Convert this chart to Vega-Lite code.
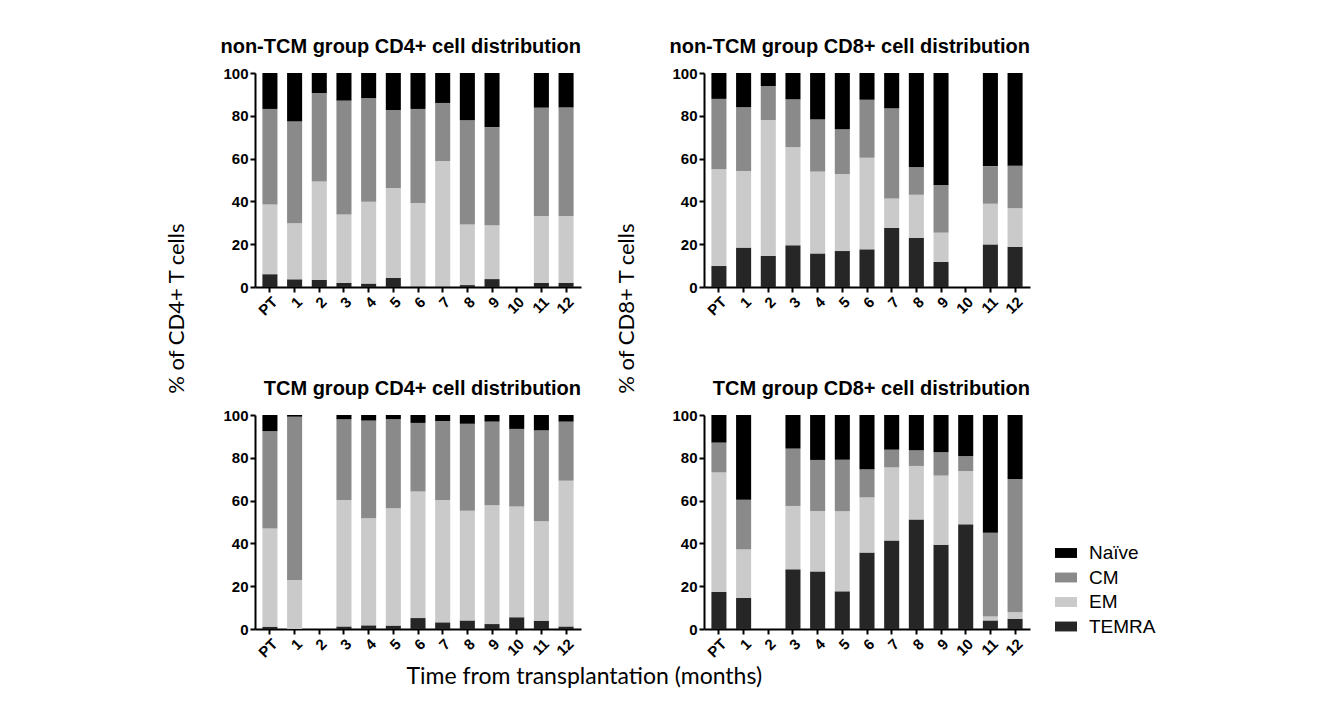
{
  "$schema": "https://vega.github.io/schema/vega-lite/v6.json",
  "background": "white",
  "padding": {"left": 166, "top": 37, "right": 5, "bottom": 5},
  "config": {
    "view": {"stroke": null},
    "font": "Liberation Sans",
    "axis": {
      "grid": false,
      "domainColor": "#000000",
      "domainWidth": 2,
      "tickColor": "#000000",
      "tickWidth": 2,
      "tickSize": 5,
      "labelFont": "Liberation Sans",
      "labelFontWeight": "bold",
      "labelFontSize": 15,
      "labelColor": "#000000",
      "labelPadding": 2
    },
    "title": {"font": "Liberation Sans", "fontWeight": "bold", "fontSize": 20, "color": "#000000"},
    "concat": {"spacing": 35}
  },
  "datasets": {
    "stackrank": [
      {"subset": "TEMRA", "rank": 1},
      {"subset": "EM", "rank": 2},
      {"subset": "CM", "rank": 3},
      {"subset": "Naïve", "rank": 4}
    ]
  },
  "data": {
    "values": [
      {"panel": "A", "month": "PT", "TEMRA": 6.0, "EM": 32.5, "CM": 44.7, "Naïve": 16.8},
      {"panel": "A", "month": "1", "TEMRA": 3.6, "EM": 26.2, "CM": 47.6, "Naïve": 22.6},
      {"panel": "A", "month": "2", "TEMRA": 3.4, "EM": 45.9, "CM": 41.3, "Naïve": 9.4},
      {"panel": "A", "month": "3", "TEMRA": 2.0, "EM": 31.9, "CM": 53.2, "Naïve": 12.9},
      {"panel": "A", "month": "4", "TEMRA": 1.6, "EM": 38.2, "CM": 48.5, "Naïve": 11.7},
      {"panel": "A", "month": "5", "TEMRA": 4.2, "EM": 42.1, "CM": 36.4, "Naïve": 17.3},
      {"panel": "A", "month": "6", "TEMRA": 0.3, "EM": 38.9, "CM": 44.0, "Naïve": 16.8},
      {"panel": "A", "month": "7", "TEMRA": 0.3, "EM": 58.5, "CM": 27.2, "Naïve": 14.0},
      {"panel": "A", "month": "8", "TEMRA": 0.9, "EM": 28.3, "CM": 48.8, "Naïve": 22.0},
      {"panel": "A", "month": "9", "TEMRA": 3.7, "EM": 25.2, "CM": 45.8, "Naïve": 25.3},
      {"panel": "A", "month": "11", "TEMRA": 1.9, "EM": 31.3, "CM": 50.6, "Naïve": 16.2},
      {"panel": "A", "month": "12", "TEMRA": 2.0, "EM": 31.2, "CM": 50.7, "Naïve": 16.1},
      {"panel": "B", "month": "PT", "TEMRA": 9.8, "EM": 45.2, "CM": 32.9, "Naïve": 12.1},
      {"panel": "B", "month": "1", "TEMRA": 18.4, "EM": 35.8, "CM": 29.8, "Naïve": 16.0},
      {"panel": "B", "month": "2", "TEMRA": 14.6, "EM": 63.4, "CM": 15.9, "Naïve": 6.1},
      {"panel": "B", "month": "3", "TEMRA": 19.5, "EM": 45.9, "CM": 22.3, "Naïve": 12.3},
      {"panel": "B", "month": "4", "TEMRA": 15.7, "EM": 38.2, "CM": 24.4, "Naïve": 21.7},
      {"panel": "B", "month": "5", "TEMRA": 16.8, "EM": 36.0, "CM": 20.9, "Naïve": 26.3},
      {"panel": "B", "month": "6", "TEMRA": 17.6, "EM": 42.8, "CM": 27.1, "Naïve": 12.5},
      {"panel": "B", "month": "7", "TEMRA": 27.6, "EM": 13.8, "CM": 42.1, "Naïve": 16.5},
      {"panel": "B", "month": "8", "TEMRA": 22.9, "EM": 20.2, "CM": 12.8, "Naïve": 44.1},
      {"panel": "B", "month": "9", "TEMRA": 11.7, "EM": 13.7, "CM": 22.3, "Naïve": 52.3},
      {"panel": "B", "month": "11", "TEMRA": 19.9, "EM": 19.0, "CM": 17.6, "Naïve": 43.5},
      {"panel": "B", "month": "12", "TEMRA": 18.8, "EM": 18.0, "CM": 19.9, "Naïve": 43.3},
      {"panel": "C", "month": "PT", "TEMRA": 1.1, "EM": 45.9, "CM": 45.5, "Naïve": 7.5},
      {"panel": "C", "month": "1", "TEMRA": 0.0, "EM": 22.9, "CM": 76.3, "Naïve": 0.8},
      {"panel": "C", "month": "3", "TEMRA": 1.2, "EM": 59.1, "CM": 37.7, "Naïve": 2.0},
      {"panel": "C", "month": "4", "TEMRA": 1.7, "EM": 50.0, "CM": 45.7, "Naïve": 2.6},
      {"panel": "C", "month": "5", "TEMRA": 1.6, "EM": 54.8, "CM": 41.7, "Naïve": 1.9},
      {"panel": "C", "month": "6", "TEMRA": 5.1, "EM": 59.2, "CM": 32.0, "Naïve": 3.7},
      {"panel": "C", "month": "7", "TEMRA": 3.1, "EM": 57.2, "CM": 36.9, "Naïve": 2.8},
      {"panel": "C", "month": "8", "TEMRA": 4.0, "EM": 51.3, "CM": 40.6, "Naïve": 4.1},
      {"panel": "C", "month": "9", "TEMRA": 2.3, "EM": 55.5, "CM": 39.1, "Naïve": 3.1},
      {"panel": "C", "month": "10", "TEMRA": 5.5, "EM": 51.8, "CM": 36.2, "Naïve": 6.5},
      {"panel": "C", "month": "11", "TEMRA": 3.9, "EM": 46.4, "CM": 42.5, "Naïve": 7.2},
      {"panel": "C", "month": "12", "TEMRA": 1.2, "EM": 68.1, "CM": 27.6, "Naïve": 3.1},
      {"panel": "D", "month": "PT", "TEMRA": 17.3, "EM": 55.9, "CM": 13.9, "Naïve": 12.9},
      {"panel": "D", "month": "1", "TEMRA": 14.6, "EM": 22.6, "CM": 23.2, "Naïve": 39.6},
      {"panel": "D", "month": "3", "TEMRA": 27.9, "EM": 29.6, "CM": 26.8, "Naïve": 15.7},
      {"panel": "D", "month": "4", "TEMRA": 26.9, "EM": 28.2, "CM": 23.9, "Naïve": 21.0},
      {"panel": "D", "month": "5", "TEMRA": 17.6, "EM": 37.5, "CM": 24.0, "Naïve": 20.9},
      {"panel": "D", "month": "6", "TEMRA": 35.7, "EM": 25.8, "CM": 13.1, "Naïve": 25.4},
      {"panel": "D", "month": "7", "TEMRA": 41.3, "EM": 34.2, "CM": 8.3, "Naïve": 16.2},
      {"panel": "D", "month": "8", "TEMRA": 51.2, "EM": 25.0, "CM": 7.3, "Naïve": 16.5},
      {"panel": "D", "month": "9", "TEMRA": 39.4, "EM": 32.3, "CM": 10.9, "Naïve": 17.4},
      {"panel": "D", "month": "10", "TEMRA": 48.9, "EM": 24.9, "CM": 7.0, "Naïve": 19.2},
      {"panel": "D", "month": "11", "TEMRA": 4.0, "EM": 1.8, "CM": 39.2, "Naïve": 55.0},
      {"panel": "D", "month": "12", "TEMRA": 4.8, "EM": 3.0, "CM": 62.3, "Naïve": 29.9}
    ]
  },
  "title": {
    "text": "Time from transplantation (months)",
    "orient": "bottom",
    "anchor": "middle",
    "font": "Lato",
    "fontSize": 23,
    "fontWeight": "normal",
    "offset": 6,
    "dx": -77
  },
  "hconcat": [
    {
      "title": {"text": "% of CD4+ T cells", "orient": "left", "anchor": "middle", "font": "Lato", "fontSize": 22, "fontWeight": "normal", "offset": 31, "dx": 40},
      "spacing": 60,
      "vconcat": [
        {
          "title": {"text": "non-TCM group CD4+ cell distribution", "anchor": "end", "frame": "group", "offset": 9},
          "width": 326, "height": 214,
          "transform": [
            {"filter": "datum.panel === 'A'"},
            {"fold": ["TEMRA", "EM", "CM", "Naïve"], "as": ["subset", "pct"]},
            {"lookup": "subset", "from": {"data": {"name": "stackrank"}, "key": "subset", "fields": ["rank"]}}
          ],
          "mark": {"type": "bar"},
          "encoding": {
            "x": {"field": "month", "type": "nominal", "scale": {"domain": ["PT", "1", "2", "3", "4", "5", "6", "7", "8", "9", "10", "11", "12"], "paddingInner": 0.39, "paddingOuter": 0.3}, "axis": {"title": null, "labelAngle": -45}},
            "y": {"field": "pct", "type": "quantitative", "stack": "zero", "scale": {"domain": [0, 100]}, "axis": {"title": null, "values": [0, 20, 40, 60, 80, 100]}},
            "order": {"field": "rank", "type": "quantitative", "sort": "ascending"},
            "color": {"field": "subset", "type": "nominal", "sort": ["TEMRA", "EM", "CM", "Naïve"], "scale": {"range": ["#262626", "#cacaca", "#8a8a8a", "#000000"]}, "legend": {"title": null, "values": ["Naïve", "CM", "EM", "TEMRA"], "orient": "none", "legendX": 800, "legendY": 469, "symbolType": "M-1,-0.45H1V0.45H-1Z", "symbolSize": 484, "symbolStrokeWidth": 0, "labelFont": "Liberation Sans", "labelFontSize": 19, "labelColor": "#000000", "rowPadding": 3.5, "labelOffset": 12}}
          }
        },
        {
          "title": {"text": "TCM group CD4+ cell distribution", "anchor": "end", "frame": "group", "offset": 9},
          "width": 326, "height": 214,
          "transform": [
            {"filter": "datum.panel === 'C'"},
            {"fold": ["TEMRA", "EM", "CM", "Naïve"], "as": ["subset", "pct"]},
            {"lookup": "subset", "from": {"data": {"name": "stackrank"}, "key": "subset", "fields": ["rank"]}}
          ],
          "mark": {"type": "bar"},
          "encoding": {
            "x": {"field": "month", "type": "nominal", "scale": {"domain": ["PT", "1", "2", "3", "4", "5", "6", "7", "8", "9", "10", "11", "12"], "paddingInner": 0.39, "paddingOuter": 0.3}, "axis": {"title": null, "labelAngle": -45}},
            "y": {"field": "pct", "type": "quantitative", "stack": "zero", "scale": {"domain": [0, 100]}, "axis": {"title": null, "values": [0, 20, 40, 60, 80, 100]}},
            "order": {"field": "rank", "type": "quantitative", "sort": "ascending"},
            "color": {"field": "subset", "type": "nominal", "sort": ["TEMRA", "EM", "CM", "Naïve"]}
          }
        }
      ]
    },
    {
      "title": {"text": "% of CD8+ T cells", "orient": "left", "anchor": "middle", "font": "Lato", "fontSize": 22, "fontWeight": "normal", "offset": 30, "dx": 40},
      "spacing": 60,
      "vconcat": [
        {
          "title": {"text": "non-TCM group CD8+ cell distribution", "anchor": "end", "frame": "group", "offset": 9},
          "width": 326, "height": 214,
          "transform": [
            {"filter": "datum.panel === 'B'"},
            {"fold": ["TEMRA", "EM", "CM", "Naïve"], "as": ["subset", "pct"]},
            {"lookup": "subset", "from": {"data": {"name": "stackrank"}, "key": "subset", "fields": ["rank"]}}
          ],
          "mark": {"type": "bar"},
          "encoding": {
            "x": {"field": "month", "type": "nominal", "scale": {"domain": ["PT", "1", "2", "3", "4", "5", "6", "7", "8", "9", "10", "11", "12"], "paddingInner": 0.39, "paddingOuter": 0.3}, "axis": {"title": null, "labelAngle": -45}},
            "y": {"field": "pct", "type": "quantitative", "stack": "zero", "scale": {"domain": [0, 100]}, "axis": {"title": null, "values": [0, 20, 40, 60, 80, 100]}},
            "order": {"field": "rank", "type": "quantitative", "sort": "ascending"},
            "color": {"field": "subset", "type": "nominal", "sort": ["TEMRA", "EM", "CM", "Naïve"]}
          }
        },
        {
          "title": {"text": "TCM group CD8+ cell distribution", "anchor": "end", "frame": "group", "offset": 9},
          "width": 326, "height": 214,
          "transform": [
            {"filter": "datum.panel === 'D'"},
            {"fold": ["TEMRA", "EM", "CM", "Naïve"], "as": ["subset", "pct"]},
            {"lookup": "subset", "from": {"data": {"name": "stackrank"}, "key": "subset", "fields": ["rank"]}}
          ],
          "mark": {"type": "bar"},
          "encoding": {
            "x": {"field": "month", "type": "nominal", "scale": {"domain": ["PT", "1", "2", "3", "4", "5", "6", "7", "8", "9", "10", "11", "12"], "paddingInner": 0.39, "paddingOuter": 0.3}, "axis": {"title": null, "labelAngle": -45}},
            "y": {"field": "pct", "type": "quantitative", "stack": "zero", "scale": {"domain": [0, 100]}, "axis": {"title": null, "values": [0, 20, 40, 60, 80, 100]}},
            "order": {"field": "rank", "type": "quantitative", "sort": "ascending"},
            "color": {"field": "subset", "type": "nominal", "sort": ["TEMRA", "EM", "CM", "Naïve"]}
          }
        }
      ]
    }
  ]
}
